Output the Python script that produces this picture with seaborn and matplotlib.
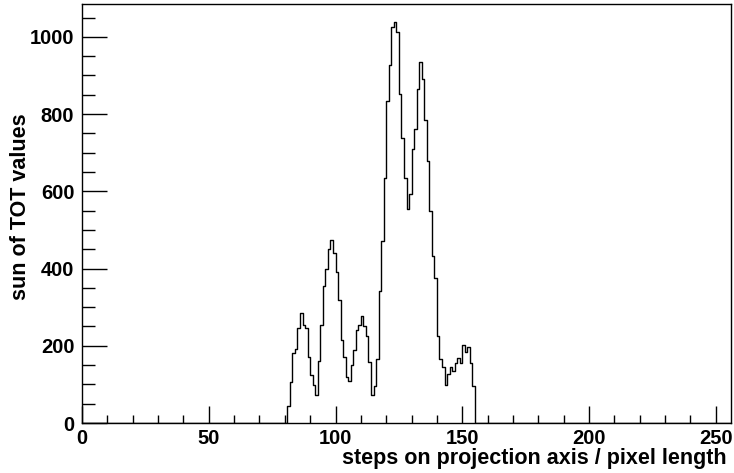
import numpy as np
import pandas as pd
import matplotlib
matplotlib.use("Agg")
import matplotlib.pyplot as plt
import seaborn as sns
from matplotlib.ticker import MultipleLocator

# bin index (lower edge, width 1) and the sum of TOT values per bin
first_bin = 81
tot_sums = [
    44, 107, 182, 192, 247, 285, 254, 247, 172, 125,      # 81-90
    99, 73, 161, 254, 354, 399, 451, 475, 441, 390,       # 91-100
    319, 215, 172, 120, 108, 150, 188, 242, 254, 276,     # 101-110
    252, 224, 159, 73, 95, 165, 341, 471, 635, 835,       # 111-120
    926, 1025, 1038, 1012, 852, 739, 635, 553, 592, 709,  # 121-130
    761, 865, 936, 891, 785, 679, 549, 432, 376, 224,     # 131-140
    166, 145, 99, 128, 145, 135, 155, 168, 155, 203,      # 141-150
    185, 198, 155, 96,                                    # 151-154
]
n_bins = 256
x_ticks = [0, 50, 100, 150, 200, 250]
y_ticks = [0, 200, 400, 600, 800, 1000]
x_title = "steps on projection axis / pixel length"
y_title = "sun of TOT values"

bins = np.arange(first_bin, first_bin + len(tot_sums))
df = pd.DataFrame({"step": bins + 0.5, "tot": tot_sums})

sns.set_theme(style="white")
plt.rcParams["font.family"] = ["Liberation Sans", "DejaVu Sans"]
plt.rcParams["font.weight"] = "bold"

fig = plt.figure(figsize=(7.34, 4.73), dpi=100)
ax = fig.add_axes([82 / 734, 50 / 473, 649 / 734, 419 / 473])

sns.histplot(data=df, x="step", weights="tot", binwidth=1, binrange=(0, n_bins),
             element="step", fill=False, color="black", linewidth=1.0, ax=ax)

ax.set_xlim(0, n_bins)
ax.set_ylim(0, 1085)
ax.set_xticks(x_ticks)
ax.set_yticks(y_ticks)
ax.xaxis.set_minor_locator(MultipleLocator(10))
ax.yaxis.set_minor_locator(MultipleLocator(50))
ax.tick_params(axis="x", which="major", direction="in", length=12, width=1,
               color="black", labelsize=14.5, pad=4, top=False, bottom=True)
ax.tick_params(axis="x", which="minor", direction="in", length=6, width=1,
               color="black", bottom=True)
ax.tick_params(axis="y", which="major", direction="in", length=18, width=1,
               color="black", labelsize=14.5, pad=5.5, left=True)
ax.tick_params(axis="y", which="minor", direction="in", length=9, width=1,
               color="black", left=True)
for lab in ax.get_xticklabels() + ax.get_yticklabels():
    lab.set_fontweight("bold")
    lab.set_color("black")

for sp in ax.spines.values():
    sp.set_visible(True)
    sp.set_color("black")
    sp.set_linewidth(1.0)

ax.set_xlabel(x_title, fontsize=15.5, fontweight="bold", color="black", loc="right")
ax.set_ylabel(y_title, fontsize=15.5, fontweight="bold", color="black")
ax.xaxis.set_label_coords((727 - 82) / 649, (423 - 448) / 419)
ax.xaxis.label.set_horizontalalignment("right")
ax.yaxis.set_label_coords((31 - 82) / 649, (423 - 207) / 419)
ax.grid(False)

fig.savefig("out.png", dpi=100, facecolor="white")
